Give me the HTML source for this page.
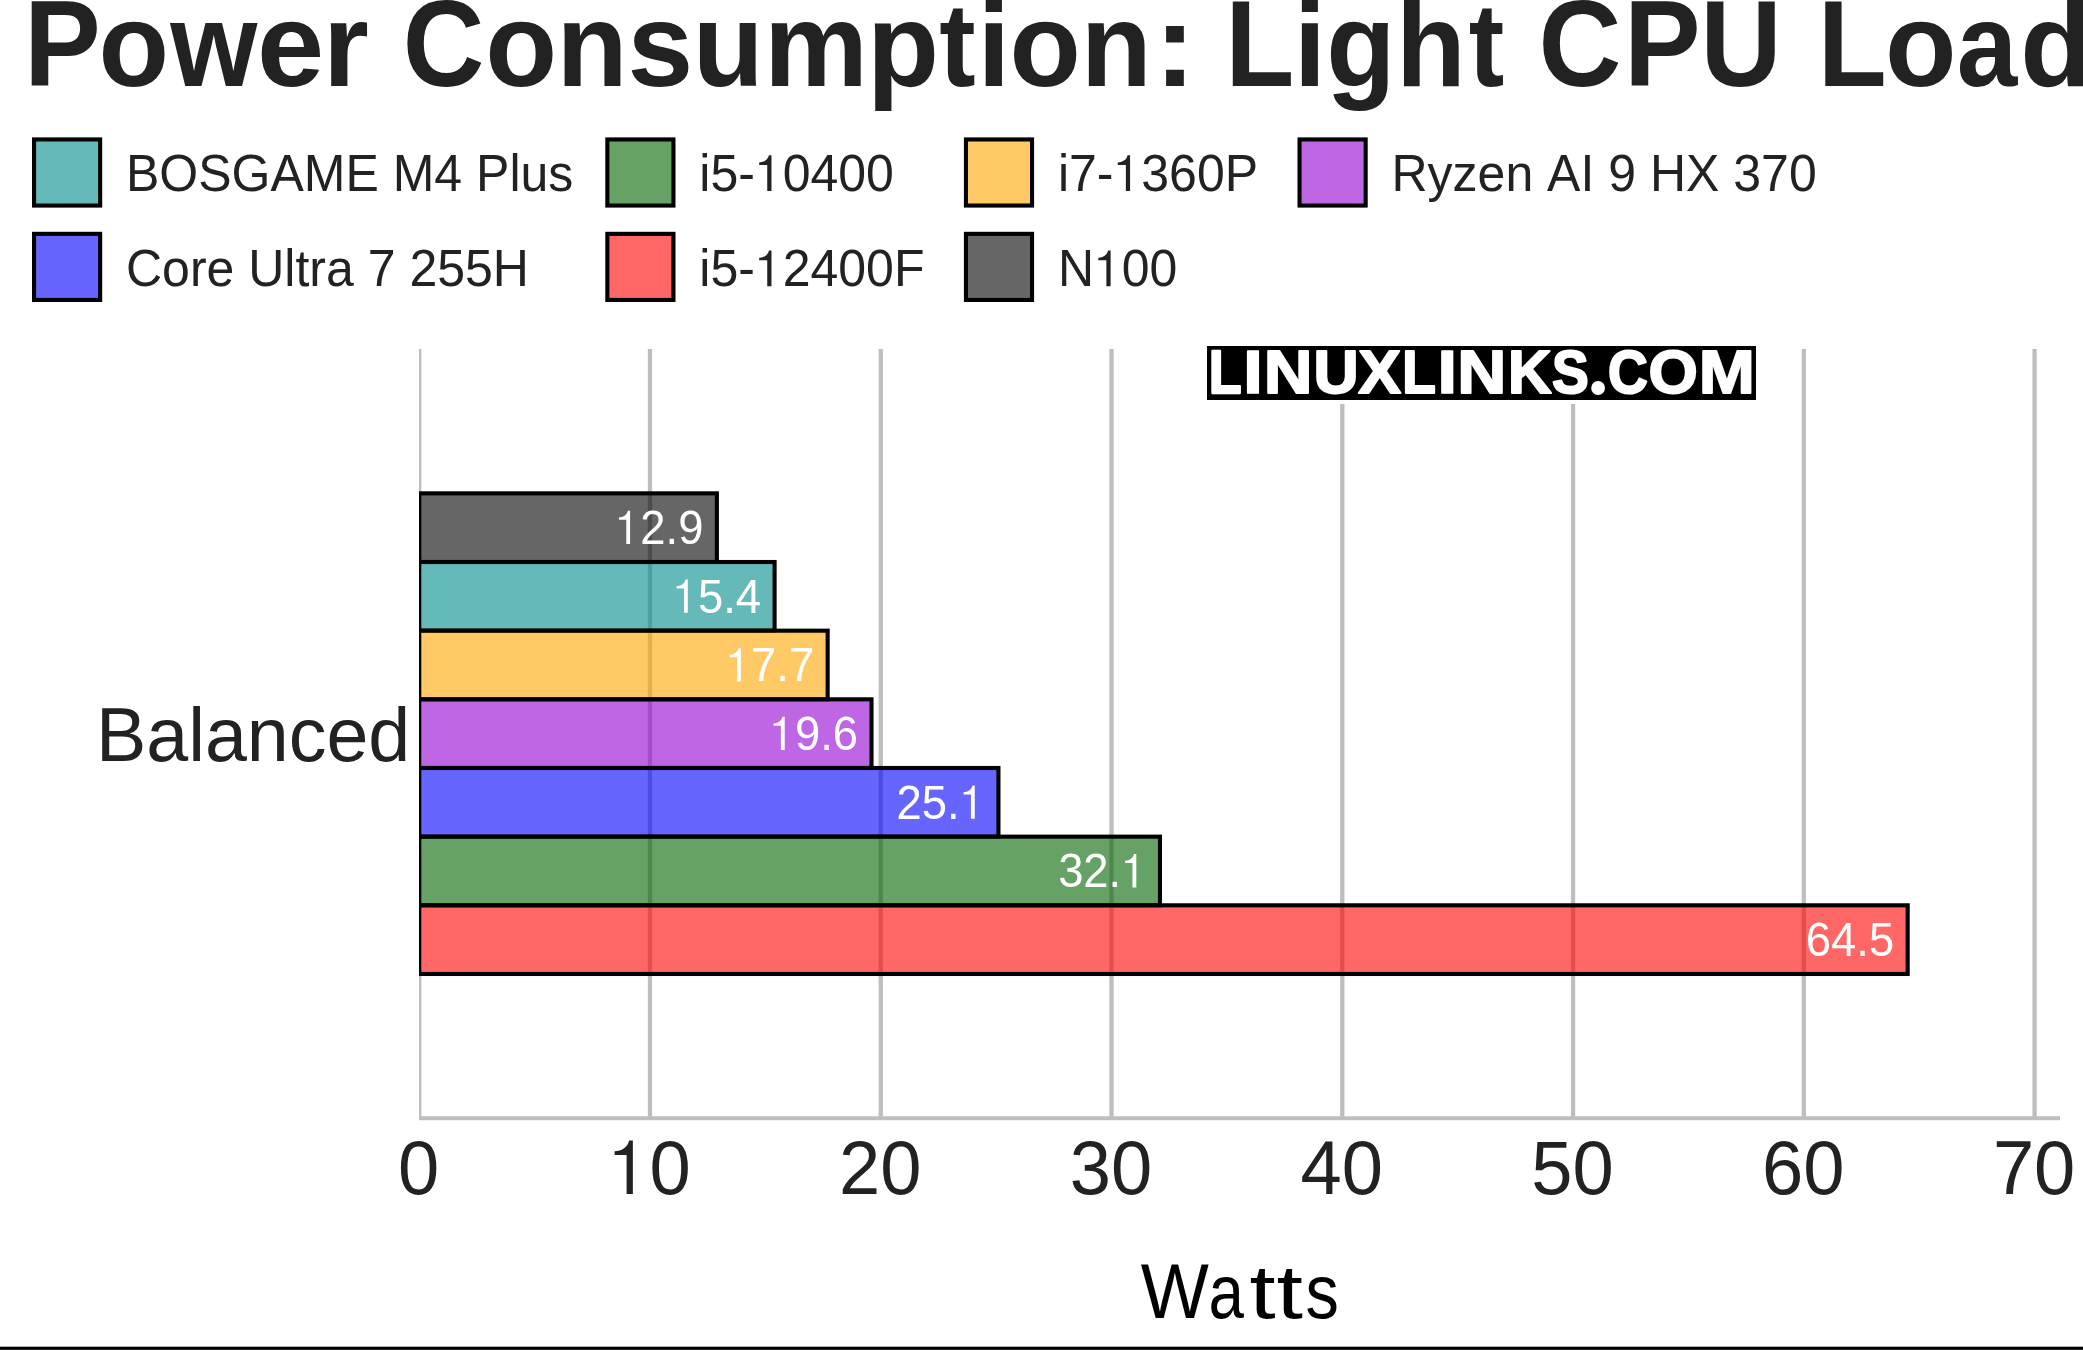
<!DOCTYPE html>
<html><head><meta charset="utf-8"><style>
html,body{margin:0;padding:0;background:#fff;overflow:hidden;}
svg{display:block;}
text{font-family:"Liberation Sans",sans-serif;font-kerning:none;}
</style></head><body>
<svg width="2083" height="1350" viewBox="0 0 2083 1350">
<rect x="0" y="0" width="2083" height="1350" fill="#fff"/>
<text transform="translate(24.00,85.80) scale(0.9908,1.06)" font-family="Liberation Sans" font-size="116.1" font-weight="bold" fill="#222" text-anchor="start" >P</text>
<text transform="translate(98.49,85.80) scale(0.9944,1.02)" font-family="Liberation Sans" font-size="116.1" font-weight="bold" fill="#222" text-anchor="start" >o</text>
<text transform="translate(170.23,85.80) scale(0.9651,1.02)" font-family="Liberation Sans" font-size="116.1" font-weight="bold" fill="#222" text-anchor="start" >w</text>
<text transform="translate(256.88,85.80) scale(1.0398,1.02)" font-family="Liberation Sans" font-size="116.1" font-weight="bold" fill="#222" text-anchor="start" >e</text>
<text transform="translate(322.93,85.80) scale(1.0148,1.02)" font-family="Liberation Sans" font-size="116.1" font-weight="bold" fill="#222" text-anchor="start" >r</text>
<text transform="translate(402.66,85.80) scale(0.9736,1.06)" font-family="Liberation Sans" font-size="116.1" font-weight="bold" fill="#222" text-anchor="start" >C</text>
<text transform="translate(485.20,85.80) scale(1.0138,1.02)" font-family="Liberation Sans" font-size="116.1" font-weight="bold" fill="#222" text-anchor="start" >o</text>
<text transform="translate(556.53,85.80) scale(1.0024,1.02)" font-family="Liberation Sans" font-size="116.1" font-weight="bold" fill="#222" text-anchor="start" >n</text>
<text transform="translate(627.45,85.80) scale(1.0175,1.02)" font-family="Liberation Sans" font-size="116.1" font-weight="bold" fill="#222" text-anchor="start" >s</text>
<text transform="translate(692.70,85.80) scale(1.0006,1.02)" font-family="Liberation Sans" font-size="116.1" font-weight="bold" fill="#222" text-anchor="start" >u</text>
<text transform="translate(763.89,85.80) scale(1.007,1.02)" font-family="Liberation Sans" font-size="116.1" font-weight="bold" fill="#222" text-anchor="start" >m</text>
<text transform="translate(867.12,85.80) scale(1.017,1.02)" font-family="Liberation Sans" font-size="116.1" font-weight="bold" fill="#222" text-anchor="start" >p</text>
<text transform="translate(939.17,85.80) scale(0.9406,1.02)" font-family="Liberation Sans" font-size="116.1" font-weight="bold" fill="#222" text-anchor="start" >t</text>
<text transform="translate(977.56,85.80) scale(1.017,1.02)" font-family="Liberation Sans" font-size="116.1" font-weight="bold" fill="#222" text-anchor="start" >i</text>
<text transform="translate(1009.44,85.80) scale(1.0057,1.02)" font-family="Liberation Sans" font-size="116.1" font-weight="bold" fill="#222" text-anchor="start" >o</text>
<text transform="translate(1080.64,85.80) scale(1.0006,1.02)" font-family="Liberation Sans" font-size="116.1" font-weight="bold" fill="#222" text-anchor="start" >n</text>
<text transform="translate(1153.89,85.80) scale(1.0841,1.02)" font-family="Liberation Sans" font-size="116.1" font-weight="bold" fill="#222" text-anchor="start" >:</text>
<text transform="translate(1225.34,85.80) scale(0.9735,1.06)" font-family="Liberation Sans" font-size="116.1" font-weight="bold" fill="#222" text-anchor="start" >L</text>
<text transform="translate(1293.76,85.80) scale(1.0044,1.02)" font-family="Liberation Sans" font-size="116.1" font-weight="bold" fill="#222" text-anchor="start" >i</text>
<text transform="translate(1326.35,85.80) scale(0.9762,1.02)" font-family="Liberation Sans" font-size="116.1" font-weight="bold" fill="#222" text-anchor="start" >g</text>
<text transform="translate(1396.03,85.80) scale(0.9836,1.02)" font-family="Liberation Sans" font-size="116.1" font-weight="bold" fill="#222" text-anchor="start" >h</text>
<text transform="translate(1468.70,85.80) scale(0.9183,1.02)" font-family="Liberation Sans" font-size="116.1" font-weight="bold" fill="#222" text-anchor="start" >t</text>
<text transform="translate(1538.59,85.80) scale(0.9894,1.06)" font-family="Liberation Sans" font-size="116.1" font-weight="bold" fill="#222" text-anchor="start" >C</text>
<text transform="translate(1624.02,85.80) scale(0.9893,1.06)" font-family="Liberation Sans" font-size="116.1" font-weight="bold" fill="#222" text-anchor="start" >P</text>
<text transform="translate(1700.56,85.80) scale(0.9673,1.06)" font-family="Liberation Sans" font-size="116.1" font-weight="bold" fill="#222" text-anchor="start" >U</text>
<text transform="translate(1817.65,85.80) scale(0.9718,1.06)" font-family="Liberation Sans" font-size="116.1" font-weight="bold" fill="#222" text-anchor="start" >L</text>
<text transform="translate(1885.12,85.80) scale(1.0089,1.02)" font-family="Liberation Sans" font-size="116.1" font-weight="bold" fill="#222" text-anchor="start" >o</text>
<text transform="translate(1956.81,85.80) scale(0.9369,1.02)" font-family="Liberation Sans" font-size="116.1" font-weight="bold" fill="#222" text-anchor="start" >a</text>
<text transform="translate(2020.34,85.80) scale(1.0,1.02)" font-family="Liberation Sans" font-size="116.1" font-weight="bold" fill="#222" text-anchor="start" >d</text>
<rect x="34.05" y="139.45" width="66.10" height="66.10" fill="rgba(0,139,139,0.6)" stroke="#000" stroke-width="4.1"/>
<text transform="translate(126.00,190.90) scale(1.0,1.02)" font-family="Liberation Sans" font-size="50.0" font-weight="normal" fill="#222" text-anchor="start" >BOSGAME M4 Plus</text>
<rect x="607.35" y="139.45" width="66.10" height="66.10" fill="rgba(0,100,0,0.6)" stroke="#000" stroke-width="4.1"/>
<text transform="translate(699.30,190.90) scale(1.0,1.02)" font-family="Liberation Sans" font-size="50.0" font-weight="normal" fill="#222" text-anchor="start" >i5-&#x2007;0400</text>
<path transform="translate(754.87,190.90) scale(0.02441,-0.02490)" d="M680 0L680 1430L578 1430C530 1230 360 1150 176 1145L176 1042L507 1042L507 0Z" fill="#222"/>
<rect x="965.95" y="139.45" width="66.10" height="66.10" fill="rgba(255,165,0,0.6)" stroke="#000" stroke-width="4.1"/>
<text transform="translate(1057.90,190.90) scale(1.0,1.02)" font-family="Liberation Sans" font-size="50.0" font-weight="normal" fill="#222" text-anchor="start" >i7-&#x2007;360P</text>
<path transform="translate(1113.47,190.90) scale(0.02441,-0.02490)" d="M680 0L680 1430L578 1430C530 1230 360 1150 176 1145L176 1042L507 1042L507 0Z" fill="#222"/>
<rect x="1299.55" y="139.45" width="66.10" height="66.10" fill="rgba(148,0,211,0.6)" stroke="#000" stroke-width="4.1"/>
<text transform="translate(1391.50,190.90) scale(1.0,1.02)" font-family="Liberation Sans" font-size="50.0" font-weight="normal" fill="#222" text-anchor="start" >Ryzen AI 9 HX 370</text>
<rect x="34.05" y="233.85" width="66.10" height="66.10" fill="rgba(0,0,255,0.6)" stroke="#000" stroke-width="4.1"/>
<text transform="translate(126.00,286.20) scale(1.0,1.02)" font-family="Liberation Sans" font-size="50.0" font-weight="normal" fill="#222" text-anchor="start" >Core Ultra 7 255H</text>
<rect x="607.35" y="233.85" width="66.10" height="66.10" fill="rgba(255,0,0,0.6)" stroke="#000" stroke-width="4.1"/>
<text transform="translate(699.30,286.20) scale(1.0,1.02)" font-family="Liberation Sans" font-size="50.0" font-weight="normal" fill="#222" text-anchor="start" >i5-&#x2007;2400F</text>
<path transform="translate(754.87,286.20) scale(0.02441,-0.02490)" d="M680 0L680 1430L578 1430C530 1230 360 1150 176 1145L176 1042L507 1042L507 0Z" fill="#222"/>
<rect x="965.95" y="233.85" width="66.10" height="66.10" fill="rgba(0,0,0,0.6)" stroke="#000" stroke-width="4.1"/>
<text transform="translate(1057.90,286.20) scale(1.0,1.02)" font-family="Liberation Sans" font-size="50.0" font-weight="normal" fill="#222" text-anchor="start" >N&#x2007;00</text>
<path transform="translate(1094.01,286.20) scale(0.02441,-0.02490)" d="M680 0L680 1430L578 1430C530 1230 360 1150 176 1145L176 1042L507 1042L507 0Z" fill="#222"/>
<defs><clipPath id="pc"><rect x="419" y="0" width="1700" height="1350"/></clipPath></defs>
<g clip-path="url(#pc)">
<line x1="419.20" y1="349" x2="419.20" y2="1118" stroke="#bebebe" stroke-width="4.3"/>
<line x1="649.97" y1="349" x2="649.97" y2="1118" stroke="#bebebe" stroke-width="4.3"/>
<line x1="880.74" y1="349" x2="880.74" y2="1118" stroke="#bebebe" stroke-width="4.3"/>
<line x1="1111.51" y1="349" x2="1111.51" y2="1118" stroke="#bebebe" stroke-width="4.3"/>
<line x1="1342.28" y1="349" x2="1342.28" y2="1118" stroke="#bebebe" stroke-width="4.3"/>
<line x1="1573.05" y1="349" x2="1573.05" y2="1118" stroke="#bebebe" stroke-width="4.3"/>
<line x1="1803.82" y1="349" x2="1803.82" y2="1118" stroke="#bebebe" stroke-width="4.3"/>
<line x1="2034.59" y1="349" x2="2034.59" y2="1118" stroke="#bebebe" stroke-width="4.3"/>
<line x1="419" y1="1118.2" x2="2060" y2="1118.2" stroke="#bebebe" stroke-width="4"/>
<rect x="1203" y="342" width="557" height="62" fill="#fff"/>
<rect x="1207" y="346" width="549" height="54" fill="#000"/>
<rect x="419.20" y="493.35" width="297.69" height="68.66" fill="rgba(0,0,0,0.6)" stroke="#000" stroke-width="4.1"/>
<rect x="419.20" y="562.01" width="355.39" height="68.66" fill="rgba(0,139,139,0.6)" stroke="#000" stroke-width="4.1"/>
<rect x="419.20" y="630.67" width="408.46" height="68.66" fill="rgba(255,165,0,0.6)" stroke="#000" stroke-width="4.1"/>
<rect x="419.20" y="699.33" width="452.31" height="68.66" fill="rgba(148,0,211,0.6)" stroke="#000" stroke-width="4.1"/>
<rect x="419.20" y="767.99" width="579.23" height="68.66" fill="rgba(0,0,255,0.6)" stroke="#000" stroke-width="4.1"/>
<rect x="419.20" y="836.65" width="740.77" height="68.66" fill="rgba(0,100,0,0.6)" stroke="#000" stroke-width="4.1"/>
<rect x="419.20" y="905.31" width="1488.47" height="68.66" fill="rgba(255,0,0,0.6)" stroke="#000" stroke-width="4.1"/>
</g>
<g style="will-change:transform">
<text transform="translate(703.39,544.08) scale(1.0,1.05)" font-family="Liberation Sans" font-size="45.4" font-weight="normal" fill="#fff" text-anchor="end" >&#x2007;2.9</text>
<path transform="translate(615.03,544.08) scale(0.02217,-0.02328)" d="M680 0L680 1430L578 1430C530 1230 360 1150 176 1145L176 1042L507 1042L507 0Z" fill="#fff"/>
<text transform="translate(761.09,612.74) scale(1.0,1.05)" font-family="Liberation Sans" font-size="45.4" font-weight="normal" fill="#fff" text-anchor="end" >&#x2007;5.4</text>
<path transform="translate(672.72,612.74) scale(0.02217,-0.02328)" d="M680 0L680 1430L578 1430C530 1230 360 1150 176 1145L176 1042L507 1042L507 0Z" fill="#fff"/>
<text transform="translate(814.16,681.40) scale(1.0,1.05)" font-family="Liberation Sans" font-size="45.4" font-weight="normal" fill="#fff" text-anchor="end" >&#x2007;7.7</text>
<path transform="translate(725.80,681.40) scale(0.02217,-0.02328)" d="M680 0L680 1430L578 1430C530 1230 360 1150 176 1145L176 1042L507 1042L507 0Z" fill="#fff"/>
<text transform="translate(858.01,750.06) scale(1.0,1.05)" font-family="Liberation Sans" font-size="45.4" font-weight="normal" fill="#fff" text-anchor="end" >&#x2007;9.6</text>
<path transform="translate(769.65,750.06) scale(0.02217,-0.02328)" d="M680 0L680 1430L578 1430C530 1230 360 1150 176 1145L176 1042L507 1042L507 0Z" fill="#fff"/>
<text transform="translate(984.93,818.72) scale(1.0,1.05)" font-family="Liberation Sans" font-size="45.4" font-weight="normal" fill="#fff" text-anchor="end" >25.&#x2007;</text>
<path transform="translate(959.68,818.72) scale(0.02217,-0.02328)" d="M680 0L680 1430L578 1430C530 1230 360 1150 176 1145L176 1042L507 1042L507 0Z" fill="#fff"/>
<text transform="translate(1146.47,887.38) scale(1.0,1.05)" font-family="Liberation Sans" font-size="45.4" font-weight="normal" fill="#fff" text-anchor="end" >32.&#x2007;</text>
<path transform="translate(1121.22,887.38) scale(0.02217,-0.02328)" d="M680 0L680 1430L578 1430C530 1230 360 1150 176 1145L176 1042L507 1042L507 0Z" fill="#fff"/>
<text transform="translate(1894.17,956.04) scale(1.0,1.05)" font-family="Liberation Sans" font-size="45.4" font-weight="normal" fill="#fff" text-anchor="end" >64.5</text>
</g>
<text transform="translate(1208.80,392.90) scale(0.8788,1.0)" font-family="Liberation Sans" font-size="61.2" font-weight="bold" fill="#fff" text-anchor="start" stroke="#fff" stroke-width="2.276" stroke-linejoin="round">L</text>
<text transform="translate(1243.31,392.90) scale(1.1457,1.0)" font-family="Liberation Sans" font-size="61.2" font-weight="bold" fill="#fff" text-anchor="start" stroke="#fff" stroke-width="1.746" stroke-linejoin="round">I</text>
<text transform="translate(1263.68,392.90) scale(1.1034,1.0)" font-family="Liberation Sans" font-size="61.2" font-weight="bold" fill="#fff" text-anchor="start" stroke="#fff" stroke-width="1.813" stroke-linejoin="round">N</text>
<text transform="translate(1313.54,392.90) scale(1.0221,1.0)" font-family="Liberation Sans" font-size="61.2" font-weight="bold" fill="#fff" text-anchor="start" stroke="#fff" stroke-width="1.957" stroke-linejoin="round">U</text>
<text transform="translate(1358.34,392.90) scale(1.0492,1.0)" font-family="Liberation Sans" font-size="61.2" font-weight="bold" fill="#fff" text-anchor="start" stroke="#fff" stroke-width="1.906" stroke-linejoin="round">X</text>
<text transform="translate(1402.32,392.90) scale(0.8979,1.0)" font-family="Liberation Sans" font-size="61.2" font-weight="bold" fill="#fff" text-anchor="start" stroke="#fff" stroke-width="2.227" stroke-linejoin="round">L</text>
<text transform="translate(1437.61,392.90) scale(1.1457,1.0)" font-family="Liberation Sans" font-size="61.2" font-weight="bold" fill="#fff" text-anchor="start" stroke="#fff" stroke-width="1.746" stroke-linejoin="round">I</text>
<text transform="translate(1457.25,392.90) scale(1.1118,1.0)" font-family="Liberation Sans" font-size="61.2" font-weight="bold" fill="#fff" text-anchor="start" stroke="#fff" stroke-width="1.799" stroke-linejoin="round">N</text>
<text transform="translate(1507.96,392.90) scale(0.9865,1.0)" font-family="Liberation Sans" font-size="61.2" font-weight="bold" fill="#fff" text-anchor="start" stroke="#fff" stroke-width="2.027" stroke-linejoin="round">K</text>
<text transform="translate(1552.11,392.90) scale(0.9,1.0)" font-family="Liberation Sans" font-size="61.2" font-weight="bold" fill="#fff" text-anchor="start" stroke="#fff" stroke-width="2.222" stroke-linejoin="round">S</text>
<circle cx="1598.1" cy="388.0" r="6.9" fill="#fff"/>
<text transform="translate(1607.94,392.90) scale(0.8997,1.0)" font-family="Liberation Sans" font-size="61.2" font-weight="bold" fill="#fff" text-anchor="start" stroke="#fff" stroke-width="2.223" stroke-linejoin="round">C</text>
<text transform="translate(1648.60,392.90) scale(1.0371,1.0)" font-family="Liberation Sans" font-size="61.2" font-weight="bold" fill="#fff" text-anchor="start" stroke="#fff" stroke-width="1.928" stroke-linejoin="round">O</text>
<text transform="translate(1698.79,392.90) scale(1.1007,1.0)" font-family="Liberation Sans" font-size="61.2" font-weight="bold" fill="#fff" text-anchor="start" stroke="#fff" stroke-width="1.817" stroke-linejoin="round">M</text>
<text transform="translate(418.70,1194.00) scale(1.025,1.06)" font-family="Liberation Sans" font-size="72.3" font-weight="normal" fill="#222" text-anchor="middle" >0</text>
<text transform="translate(649.47,1194.00) scale(1.025,1.06)" font-family="Liberation Sans" font-size="72.3" font-weight="normal" fill="#222" text-anchor="middle" >&#x2007;0</text>
<path transform="translate(608.25,1194.00) scale(0.03619,-0.03742)" d="M680 0L680 1430L578 1430C530 1230 360 1150 176 1145L176 1042L507 1042L507 0Z" fill="#222"/>
<text transform="translate(880.24,1194.00) scale(1.025,1.06)" font-family="Liberation Sans" font-size="72.3" font-weight="normal" fill="#222" text-anchor="middle" >20</text>
<text transform="translate(1111.01,1194.00) scale(1.025,1.06)" font-family="Liberation Sans" font-size="72.3" font-weight="normal" fill="#222" text-anchor="middle" >30</text>
<text transform="translate(1341.78,1194.00) scale(1.025,1.06)" font-family="Liberation Sans" font-size="72.3" font-weight="normal" fill="#222" text-anchor="middle" >40</text>
<text transform="translate(1572.55,1194.00) scale(1.025,1.06)" font-family="Liberation Sans" font-size="72.3" font-weight="normal" fill="#222" text-anchor="middle" >50</text>
<text transform="translate(1803.32,1194.00) scale(1.025,1.06)" font-family="Liberation Sans" font-size="72.3" font-weight="normal" fill="#222" text-anchor="middle" >60</text>
<text transform="translate(2034.09,1194.00) scale(1.025,1.06)" font-family="Liberation Sans" font-size="72.3" font-weight="normal" fill="#222" text-anchor="middle" >70</text>
<text transform="translate(410.30,761.00) scale(1.0,1.0)" font-family="Liberation Sans" font-size="75.4" font-weight="normal" fill="#222" text-anchor="end" >Balanced</text>
<text transform="translate(1140.80,1317.80) scale(0.92,1.0)" font-family="Liberation Sans" font-size="78.5" font-weight="normal" fill="#000" text-anchor="start" >W</text>
<text transform="translate(1208.60,1317.80) scale(0.811,0.975)" font-family="Liberation Sans" font-size="78.5" font-weight="normal" fill="#000" text-anchor="start" >a</text>
<text transform="translate(1249.60,1317.80) scale(1.197,0.96)" font-family="Liberation Sans" font-size="78.5" font-weight="normal" fill="#000" text-anchor="start" >t</text>
<text transform="translate(1276.50,1317.80) scale(1.212,0.96)" font-family="Liberation Sans" font-size="78.5" font-weight="normal" fill="#000" text-anchor="start" >t</text>
<text transform="translate(1305.50,1317.80) scale(0.85,0.975)" font-family="Liberation Sans" font-size="78.5" font-weight="normal" fill="#000" text-anchor="start" >s</text>
<rect x="0" y="1346" width="2083" height="1" fill="rgba(0,0,0,0.3)"/>
<rect x="0" y="1347" width="2083" height="2" fill="#000"/>
<rect x="0" y="1349" width="2083" height="1" fill="#222"/>
</svg>
</body></html>
